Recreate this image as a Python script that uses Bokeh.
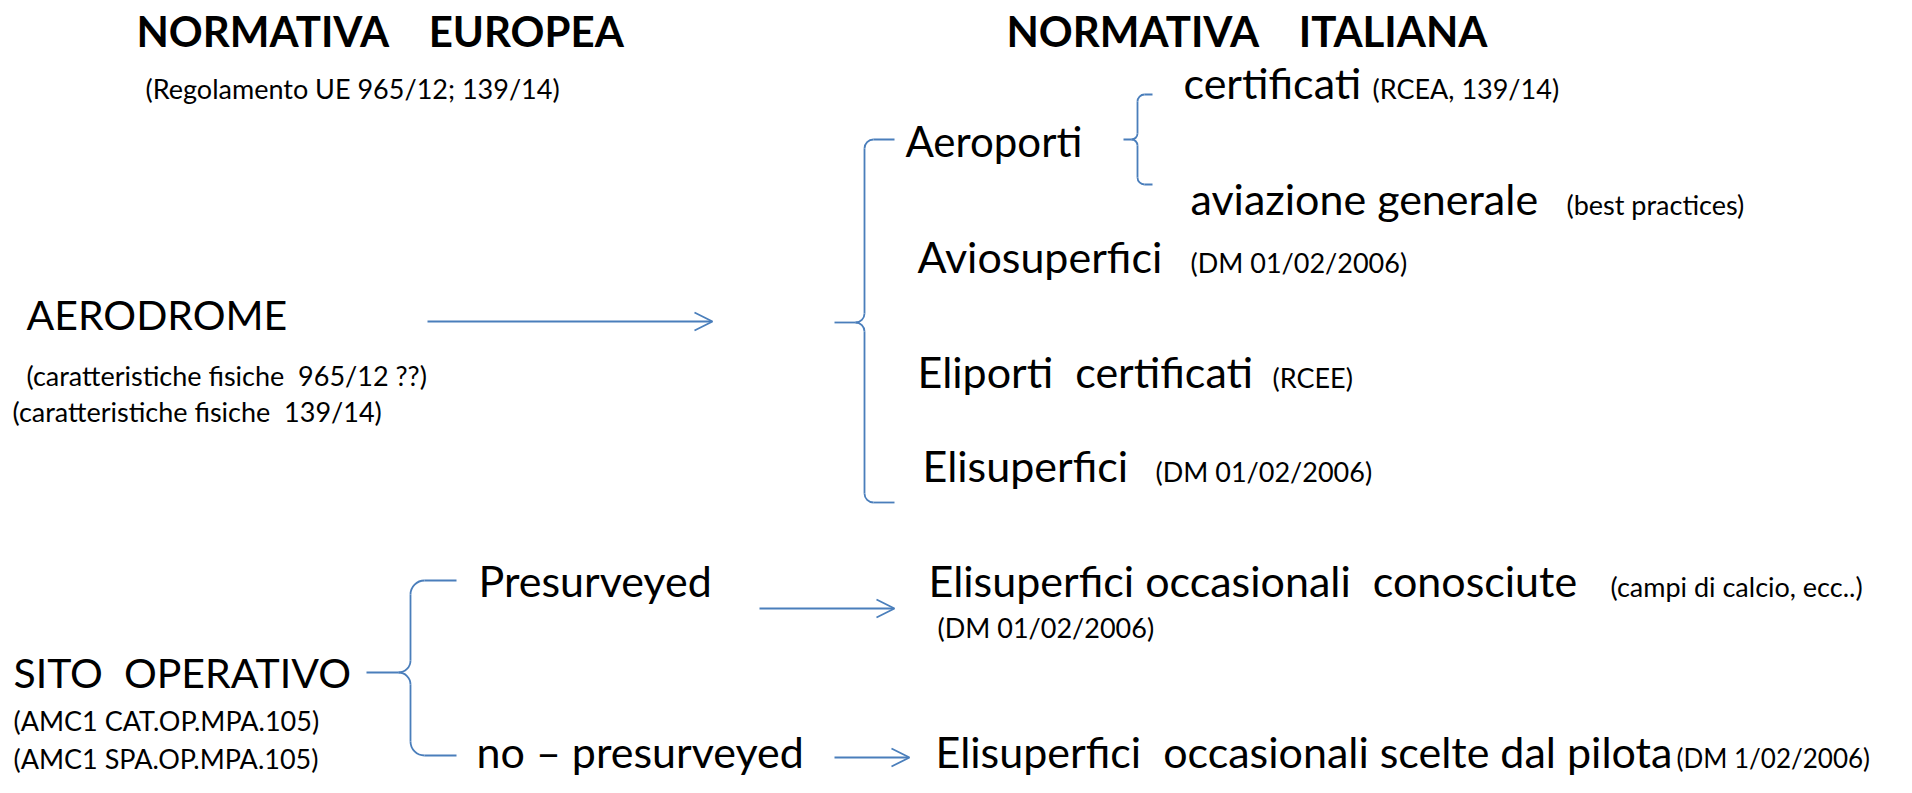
import numpy as np
from bokeh.plotting import figure
from bokeh.models import Range1d, Arrow, OpenHead, ColumnDataSource
from bokeh.core.properties import value
from bokeh.embed import file_html
from bokeh.resources import INLINE

NB = "\u00a0"  # keeps the original multiple spaces visible in SVG text

# ---------------- content ----------------
titles = ["NORMATIVA " + NB * 3 + "EUROPEA", "NORMATIVA " + NB * 3 + "ITALIANA"]
main_labels = [
    "AERODROME",
    "Aeroporti",
    "certificati",
    "aviazione generale",
    "Aviosuperfici",
    "Eliporti " + NB + "certificati",
    "Elisuperfici",
    "SITO " + NB + "OPERATIVO",
    "Presurveyed",
    "no \u2013 presurveyed",
    "Elisuperfici occasionali " + NB + "conosciute",
    "Elisuperfici " + NB + "occasionali scelte dal pilota",
]
note_labels = [
    "(Regolamento UE 965/12; 139/14)",
    "(caratteristiche fisiche " + NB + "965/12 ??)",
    "(caratteristiche fisiche " + NB + "139/14)",
    "(RCEA, 139/14)",
    "(best practices)",
    "(DM 01/02/2006)",
    "(RCEE)",
    "(DM 01/02/2006)",
    "(AMC1 CAT.OP.MPA.105)",
    "(AMC1 SPA.OP.MPA.105)",
    "(campi di calcio, ecc..)",
    "(DM 01/02/2006)",
    "(DM 1/02/2006)",
]

# ---------------- layout (picture pixels: left x / baseline y) ----------------
TITLE_PX = 42
title_x = [136, 1006]
title_y = [47, 47]
main_x = [26, 905, 1183, 1190, 917, 917, 922, 13, 478, 476, 928, 935]
main_y = [330, 157, 99, 215, 273, 388, 482, 688, 597, 768, 597, 768]
main_px = [41, 42, 43, 43, 43, 43, 43, 41, 43, 43, 43, 43]
note_x = [145, 26, 12, 1372, 1566, 1190, 1272, 1155, 13, 13, 1610, 937, 1676]
note_y = [99, 386, 422, 99, 215, 273, 388, 482, 731, 769, 597, 638, 768]
note_px = [27, 27, 27, 27, 27, 27, 27, 27, 27, 27, 27, 27, 26]

# arrows
arr_x0 = [427, 759, 834]
arr_x1 = [712, 894, 909]
arr_y = [321, 608, 757]

# braces: tip x, spine x, end x, top y, mid y, bottom y, corner r, mid r
br_tip = np.array([1123, 834, 366], dtype=float)
br_spine = np.array([1137, 864, 410], dtype=float)
br_end = np.array([1152, 894, 456], dtype=float)
br_top = np.array([94, 139, 580], dtype=float)
br_mid = np.array([139, 322, 672], dtype=float)
br_bot = np.array([184, 502, 755], dtype=float)
br_rc = np.array([7, 9, 14], dtype=float)
br_rm = np.array([6, 9, 12], dtype=float)

BLUE = "#4A7EBB"
LW = 1.8
FONT = "Lato"
BASE_SHIFT = 0.39  # renderer places the text this fraction of its size lower


def draw_y(baselines, sizes):
    return [b - BASE_SHIFT * s for b, s in zip(baselines, sizes)]


p = figure(width=1896, height=777,
           x_range=Range1d(0, 1896), y_range=Range1d(777, 0),
           output_backend="svg", toolbar_location=None, min_border=0,
           x_axis_location=None, y_axis_location=None)
p.grid.visible = False
p.outline_line_color = None
p.background_fill_color = "white"
p.border_fill_color = "white"

# ---------------- braces ----------------
k = 0.5523
seg_x0, seg_y0, seg_x1, seg_y1 = [], [], [], []
bz = {n: [] for n in ["x0", "y0", "x1", "y1", "cx0", "cy0", "cx1", "cy1"]}


def add_bez(x0, y0, x1, y1, cx0, cy0, cx1, cy1):
    for n, v in zip(["x0", "y0", "x1", "y1", "cx0", "cy0", "cx1", "cy1"],
                    [x0, y0, x1, y1, cx0, cy0, cx1, cy1]):
        bz[n].append(v)


def add_seg(x0, y0, x1, y1):
    seg_x0.append(x0); seg_y0.append(y0); seg_x1.append(x1); seg_y1.append(y1)


for xt, xs, xe, yt, ym, yb, rc, rm in zip(br_tip, br_spine, br_end, br_top,
                                           br_mid, br_bot, br_rc, br_rm):
    add_seg(xe, yt, xs + rc, yt)
    add_bez(xs + rc, yt, xs, yt + rc, xs + rc * (1 - k), yt, xs, yt + rc * (1 - k))
    add_seg(xs, yt + rc, xs, ym - rm)
    add_bez(xs, ym - rm, xs - rm, ym, xs, ym - rm * (1 - k), xs - rm * (1 - k), ym)
    add_bez(xs, ym + rm, xs - rm, ym, xs, ym + rm * (1 - k), xs - rm * (1 - k), ym)
    add_seg(xs - rm, ym, xt, ym)
    add_seg(xs, ym + rm, xs, yb - rc)
    add_bez(xs, yb - rc, xs + rc, yb, xs, yb - rc * (1 - k), xs + rc * (1 - k), yb)
    add_seg(xs + rc, yb, xe, yb)

p.segment(x0=seg_x0, y0=seg_y0, x1=seg_x1, y1=seg_y1, line_color=BLUE, line_width=LW)
p.bezier(source=ColumnDataSource(bz), x0="x0", y0="y0", x1="x1", y1="y1",
         cx0="cx0", cy0="cy0", cx1="cx1", cy1="cy1", line_color=BLUE, line_width=LW)

# ---------------- arrows ----------------
asrc = ColumnDataSource(dict(x0=arr_x0, x1=arr_x1, y=arr_y))
p.add_layout(Arrow(end=OpenHead(size=18, line_color=BLUE, line_width=LW),
                   x_start="x0", y_start="y", x_end="x1", y_end="y",
                   source=asrc, line_color=BLUE, line_width=LW))

# ---------------- texts ----------------
p.text(x=title_x, y=draw_y(title_y, [TITLE_PX] * 2), text=titles,
       text_font=value(FONT), text_font_size=f"{TITLE_PX}px",
       text_font_style="bold", text_color="black",
       text_baseline="alphabetic", text_align="left")
msrc = ColumnDataSource(dict(x=main_x, y=draw_y(main_y, main_px), t=main_labels,
                             s=[f"{v}px" for v in main_px]))
p.text(x="x", y="y", text="t", text_font_size="s", source=msrc,
       text_font=value(FONT), text_color="black",
       text_baseline="alphabetic", text_align="left")
nsrc = ColumnDataSource(dict(x=note_x, y=draw_y(note_y, note_px), t=note_labels,
                             s=[f"{v}px" for v in note_px]))
p.text(x="x", y="y", text="t", text_font_size="s", source=nsrc,
       text_font=value(FONT), text_color="black",
       text_baseline="alphabetic", text_align="left")

open("out.html", "w").write(file_html(p, INLINE))
